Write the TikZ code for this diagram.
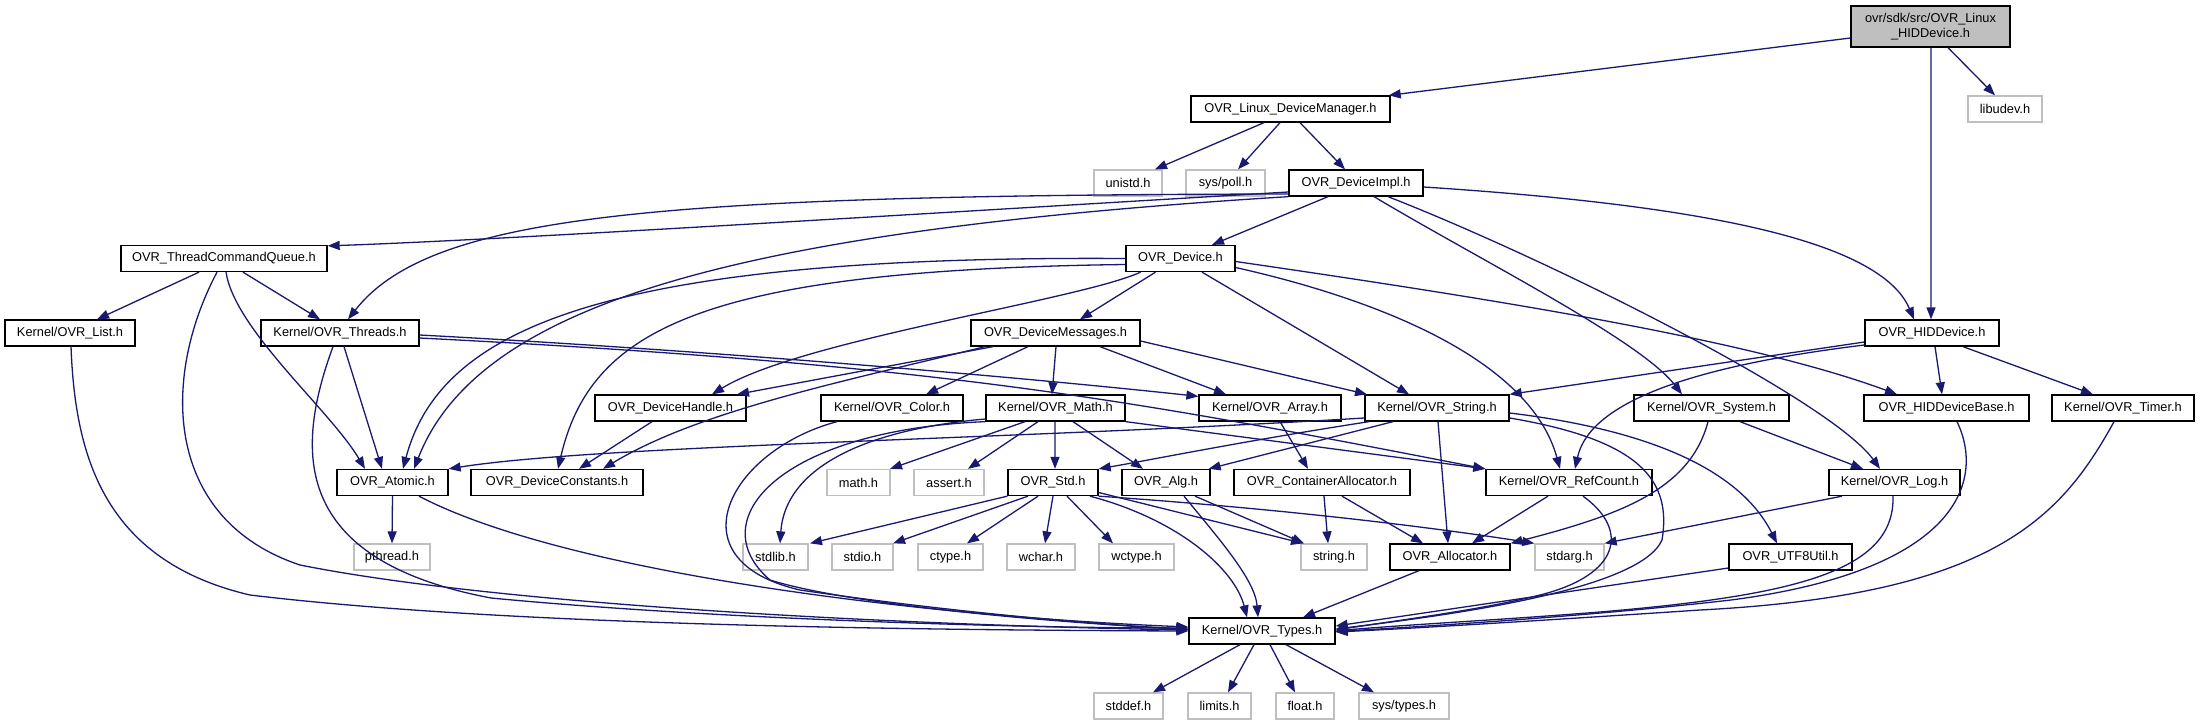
\documentclass[tikz,border=0pt]{standalone}
\usepackage{fontspec}
\setmainfont{Liberation Sans}
\usetikzlibrary{arrows.meta}
\definecolor{edgec}{HTML}{191970}
\definecolor{grayb}{HTML}{BFBFBF}
\newcommand\nodefnt{\fontsize{12.8bp}{15bp}\selectfont}
\begin{document}
\begin{tikzpicture}[x=1bp,y=-1bp,
  nd/.style={draw=black, line width=1.3bp, fill=white, inner sep=0pt, minimum height=26bp, font=\nodefnt, text=black},
  sys/.style={nd, draw=grayb},
  e/.style={draw=edgec, line width=1.3bp, -{Triangle[length=12bp,width=9bp]}}]
\fill[white] (0,0) rectangle (2200,725);
\useasboundingbox (0,0) rectangle (2200,725);
% rank 0-2
\node[nd, fill=grayb, minimum width=159bp, minimum height=41bp, align=center] (top) at (1930.5,26.5) {ovr/sdk/src/OVR\_Linux\\\_HIDDevice.h};
\node[nd, minimum width=199bp] (dm) at (1290.5,109) {OVR\_Linux\_DeviceManager.h};
\node[sys, minimum width=74bp] (udev) at (2005,109) {libudev.h};
\node[sys, minimum width=68bp] (unistd) at (1128,183) {unistd.h};
\node[sys, minimum width=79bp] (poll) at (1225.5,183) {sys/poll.h};
\node[nd, minimum width=134bp] (impl) at (1356,183) {OVR\_DeviceImpl.h};
% rank 3
\node[nd, minimum width=206bp] (tcq) at (224,258.5) {OVR\_ThreadCommandQueue.h};
\node[nd, minimum width=109bp] (dev) at (1180.5,258.5) {OVR\_Device.h};
% rank 4
\node[nd, minimum width=130bp] (list) at (70,333) {Kernel/OVR\_List.h};
\node[nd, minimum width=158bp] (threads) at (340,333) {Kernel/OVR\_Threads.h};
\node[nd, minimum width=169bp] (msgs) at (1055.5,333) {OVR\_DeviceMessages.h};
\node[nd, minimum width=134bp] (hid) at (1932,333) {OVR\_HIDDevice.h};
% rank 5
\node[nd, minimum width=151bp] (handle) at (670.5,408) {OVR\_DeviceHandle.h};
\node[nd, minimum width=142bp] (color) at (892,408) {Kernel/OVR\_Color.h};
\node[nd, minimum width=139bp] (math) at (1055.5,408) {Kernel/OVR\_Math.h};
\node[nd, minimum width=142bp] (array) at (1270,408) {Kernel/OVR\_Array.h};
\node[nd, minimum width=144bp] (string) at (1437,408) {Kernel/OVR\_String.h};
\node[nd, minimum width=155bp] (system) at (1711.5,408) {Kernel/OVR\_System.h};
\node[nd, minimum width=165bp] (hidbase) at (1946.5,408) {OVR\_HIDDeviceBase.h};
\node[nd, minimum width=142bp] (timer) at (2123,408) {Kernel/OVR\_Timer.h};
% rank 6
\node[nd, minimum width=111bp] (atomic) at (392.5,482.5) {OVR\_Atomic.h};
\node[nd, minimum width=172bp] (consts) at (557,482.5) {OVR\_DeviceConstants.h};
\node[sys, minimum width=63bp] (mathh) at (858.5,482.5) {math.h};
\node[sys, minimum width=70bp] (assert) at (949,482.5) {assert.h};
\node[nd, minimum width=90bp] (std) at (1053,482.5) {OVR\_Std.h};
\node[nd, minimum width=88bp] (alg) at (1166,482.5) {OVR\_Alg.h};
\node[nd, minimum width=176bp] (contalloc) at (1322,482.5) {OVR\_ContainerAllocator.h};
\node[nd, minimum width=166bp] (refcount) at (1569,482.5) {Kernel/OVR\_RefCount.h};
\node[nd, minimum width=131bp] (log) at (1894.5,482.5) {Kernel/OVR\_Log.h};
% rank 7
\node[sys, minimum width=76bp] (pthread) at (392,557) {pthread.h};
\node[sys, minimum width=65bp] (stdlib) at (775.5,557) {stdlib.h};
\node[sys, minimum width=61bp] (stdio) at (862.5,557) {stdio.h};
\node[sys, minimum width=65bp] (ctype) at (950.5,557) {ctype.h};
\node[sys, minimum width=68bp] (wchar) at (1041,557) {wchar.h};
\node[sys, minimum width=75bp] (wctype) at (1136.5,557) {wctype.h};
\node[sys, minimum width=66bp] (stringh) at (1334,557) {string.h};
\node[nd, minimum width=120bp] (allocator) at (1450,557) {OVR\_Allocator.h};
\node[sys, minimum width=69bp] (stdarg) at (1569.5,557) {stdarg.h};
\node[nd, minimum width=123bp] (utf8) at (1790.5,557) {OVR\_UTF8Util.h};
% rank 8-9
\node[nd, minimum width=146bp] (types) at (1262,631) {Kernel/OVR\_Types.h};
\node[sys, minimum width=69bp] (stddef) at (1128.5,706) {stddef.h};
\node[sys, minimum width=63bp] (limits) at (1219.5,706) {limits.h};
\node[sys, minimum width=58bp] (float) at (1305,706) {float.h};
\node[sys, minimum width=90bp] (systypes) at (1404,706) {sys/types.h};

% ---- edges ----
\draw[e] ([yshift=-11.5bp]top.west) -- ([xshift=-2bp]dm.north east);
\draw[e] ([xshift=17.5bp]top.south) -- ([xshift=-10bp]udev.north);
\draw[e] ([xshift=0.5bp]top.south) -- ([xshift=-1bp]hid.north);
\draw[e] ([xshift=-26.5bp]dm.south) -- ([xshift=27bp]unistd.north);
\draw[e] ([xshift=-10.5bp]dm.south) -- ([xshift=12.5bp]poll.north);
\draw[e] ([xshift=9.5bp]dm.south) -- ([xshift=-11bp]impl.north);
% impl
\draw[e] ([yshift=-9bp]impl.west) .. controls (900,215) and (500,240) .. ([yshift=-1bp]tcq.north east);
\draw[e] ([yshift=-11bp]impl.west) .. controls (650,195) and (430,215) .. ([xshift=8bp]threads.north);
\draw[e] (impl.south west) .. controls (750,230) and (480,300) .. ([xshift=21.5bp]atomic.north);
\draw[e] ([xshift=-28bp]impl.south) -- ([xshift=31.5bp]dev.north);
\draw[e] ([xshift=18bp]impl.south) .. controls (1480,260) and (1640,340) .. ([xshift=-29.5bp]system.north);
\draw[e] ([xshift=32bp]impl.south) .. controls (1550,260) and (1830,400) .. ([xshift=-14.5bp]log.north);
\draw[e] ([yshift=-4bp]impl.east) .. controls (1700,205) and (1880,240) .. ([xshift=-18bp]hid.north);
% dev
\draw[e] (dev.west) .. controls (600,255) and (440,330) .. ([xshift=10.5bp]atomic.north);
\draw[e] ([yshift=-6bp]dev.west) .. controls (700,270) and (590,330) .. ([xshift=1bp]consts.north);
\draw[e] ([xshift=-40bp]dev.south) .. controls (1080,300) and (800,340) .. ([xshift=41.5bp]handle.north);
\draw[e] ([xshift=-25bp]dev.south) -- ([xshift=24.5bp]msgs.north);
\draw[e] ([xshift=21.5bp]dev.south) -- ([xshift=-28bp]string.north);
\draw[e] ([yshift=-9bp]dev.east) .. controls (1380,300) and (1530,360) .. ([xshift=-9bp]refcount.north);
\draw[e] ([yshift=-3bp]dev.east) .. controls (1500,300) and (1750,340) .. ([xshift=-49.5bp]hidbase.north);
% threads / tcq / list
\draw[e] ([yshift=-2bp]threads.east) .. controls (700,350) and (1000,375) .. ([yshift=-2bp]array.north west);
\draw[e] ([yshift=-5bp]threads.east) .. controls (950,365) and (1130,400) .. (refcount.north west);
\draw[e] ([xshift=4bp]threads.south) -- ([xshift=-10.5bp]atomic.north);
\draw[e] ([xshift=-7bp]threads.south) .. controls (295,450) and (290,560) .. (491,598) .. controls (700,618) and (1000,628) .. ([yshift=3bp]types.west);
\draw[e] ([xshift=-25bp]tcq.south) -- ([xshift=27bp]list.north);
\draw[e] ([xshift=19bp]tcq.south) -- ([xshift=-20bp]threads.north);
\draw[e] ([xshift=2bp]tcq.south) .. controls (235,330) and (330,410) .. ([xshift=-27.5bp]atomic.north);
\draw[e] ([xshift=-7bp]tcq.south) .. controls (160,380) and (165,520) .. (300,565) .. controls (500,605) and (900,625) .. ([yshift=1bp]types.west);
\draw[e] ([xshift=1bp]list.south) .. controls (75,450) and (100,560) .. (250,595) .. controls (500,625) and (900,630) .. (types.west);
% atomic / handle / msgs / color
\draw[e] (atomic.south) -- (pthread.north);
\draw[e] ([xshift=26.5bp]atomic.south) .. controls (560,570) and (900,615) .. ([yshift=4bp]types.west);
\draw[e] ([xshift=-18.5bp]handle.south) -- ([xshift=22bp]consts.north);
\draw[e] ([xshift=-62.5bp]msgs.south) -- ([xshift=66.5bp]handle.north);
\draw[e] ([xshift=-70.5bp]msgs.south) .. controls (850,380) and (700,410) .. ([xshift=46bp]consts.north);
\draw[e] ([xshift=-27.5bp]msgs.south) -- ([xshift=34bp]color.north);
\draw[e] ([xshift=0.5bp]msgs.south) -- ([xshift=-3.5bp]math.north);
\draw[e] ([xshift=44.5bp]msgs.south) -- ([xshift=-44bp]array.north);
\draw[e] ([yshift=-8bp]msgs.east) -- ([xshift=-70bp]string.north);
\draw[e] ([xshift=-55bp]color.south) .. controls (730,450) and (670,560) .. (800,590) .. controls (950,612) and (1100,625) .. ([yshift=2bp]types.west);
% math
\draw[e] ([xshift=-30.5bp]math.south) -- ([xshift=31.5bp]mathh.north);
\draw[e] ([xshift=-17.5bp]math.south) -- ([xshift=19bp]assert.north);
\draw[e] ([xshift=-0.5bp]math.south) -- ([xshift=2bp]std.north);
\draw[e] ([xshift=17.5bp]math.south) -- ([xshift=-23bp]alg.north);
\draw[e] (math.south east) -- (refcount.north west);
\draw[e] ([yshift=-11bp]math.west) .. controls (860,430) and (785,470) .. ([xshift=4.5bp]stdlib.north);
\draw[e] (math.south west) .. controls (780,430) and (700,520) .. (770,580) .. controls (850,605) and (1050,622) .. ([yshift=1.5bp]types.west);
% std / alg / containers
\draw[e] (std.south west) -- ([xshift=34.5bp]stdlib.north);
\draw[e] ([xshift=-25bp]std.south) -- ([xshift=30.5bp]stdio.north);
\draw[e] ([xshift=-15bp]std.south) -- ([xshift=16.5bp]ctype.north);
\draw[e] (std.south) -- ([xshift=4bp]wchar.north);
\draw[e] ([xshift=14bp]std.south) -- ([xshift=-23.5bp]wctype.north);
\draw[e] ([yshift=-10bp]std.east) -- ([xshift=-31bp]stringh.north);
\draw[e] (std.south east) .. controls (1300,510) and (1450,530) .. (stdarg.north west);
\draw[e] ([xshift=37bp]std.south) .. controls (1180,520) and (1235,570) .. ([xshift=-15bp]types.north);
\draw[e] ([xshift=29bp]alg.south) -- ([xshift=-30bp]stringh.north);
\draw[e] ([xshift=18bp]alg.south) .. controls (1220,540) and (1255,580) .. ([xshift=-4bp]types.north);
\draw[e] ([xshift=2bp]contalloc.south) -- ([xshift=-6bp]stringh.north);
\draw[e] ([xshift=20bp]contalloc.south) -- ([xshift=-27bp]allocator.north);
\draw[e] ([xshift=10bp]array.south) -- ([xshift=-14bp]contalloc.north);
% string
\draw[e] ([yshift=-10bp]string.west) .. controls (1000,440) and (600,445) .. (atomic.north east);
\draw[e] ([xshift=-68bp]string.south) .. controls (1250,440) and (1150,460) .. (std.north east);
\draw[e] ([xshift=-44bp]string.south) -- ([xshift=-2bp]alg.north east);
\draw[e] ([xshift=1bp]string.south) -- ([xshift=-2bp]allocator.north);
\draw[e] ([yshift=-5bp]string.east) .. controls (1650,430) and (1740,470) .. ([xshift=-13.5bp]utf8.north);
\draw[e] ([yshift=-10bp]string.east) .. controls (1640,440) and (1672,480) .. (1662,540) .. controls (1640,590) and (1450,615) .. ([yshift=2bp]types.east);
% refcount / system / hid / log
\draw[e] ([xshift=-21bp]refcount.south) -- ([xshift=22bp]allocator.north);
\draw[e] ([xshift=14bp]refcount.south) .. controls (1630,530) and (1620,575) .. (1540,595) .. controls (1480,610) and (1400,620) .. ([yshift=1bp]types.east);
\draw[e] ([xshift=-3.5bp]system.south) .. controls (1690,490) and (1620,515) .. (allocator.north east);
\draw[e] ([xshift=28.5bp]system.south) -- ([xshift=-31.5bp]log.north);
\draw[e] ([yshift=-9bp]hid.west) -- (string.north east);
\draw[e] ([yshift=-12bp]hid.west) .. controls (1700,365) and (1590,400) .. ([xshift=6bp]refcount.north);
\draw[e] ([xshift=3bp]hid.south) -- ([xshift=-4.5bp]hidbase.north);
\draw[e] ([xshift=31bp]hid.south) -- ([xshift=-30bp]timer.north);
\draw[e] ([xshift=-52.5bp]log.south) -- (stdarg.north east);
\draw[e] ([xshift=-1.5bp]log.south) .. controls (1895,570) and (1800,595) .. (1600,612) .. controls (1500,620) and (1400,625) .. (types.east);
\draw[e] ([xshift=10.5bp]hidbase.south) .. controls (1985,480) and (1960,570) .. (1731,600) .. controls (1600,615) and (1450,625) .. ([yshift=-0.5bp]types.east);
\draw[e] ([xshift=-9bp]timer.south) .. controls (2060,520) and (1990,595) .. (1700,610) .. controls (1550,620) and (1420,628) .. ([yshift=-1bp]types.east);
\draw[e] ([yshift=-11bp]utf8.west) -- ([yshift=5bp]types.east);
\draw[e] ([xshift=-31bp]allocator.south) -- ([xshift=41bp]types.north);
% types
\draw[e] ([xshift=-22bp]types.south) -- ([xshift=24.5bp]stddef.north);
\draw[e] ([xshift=-8bp]types.south) -- ([xshift=8.5bp]limits.north);
\draw[e] ([xshift=8bp]types.south) -- ([xshift=-10bp]float.north);
\draw[e] ([xshift=24bp]types.south) -- ([xshift=-30bp]systypes.north);
\end{tikzpicture}
\end{document}
